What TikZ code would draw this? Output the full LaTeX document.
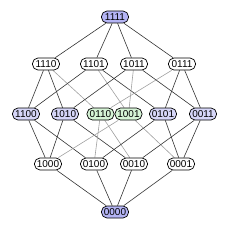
\documentclass[tikz,border=0pt]{standalone}
\usepackage{fontspec}
\setmainfont{Liberation Sans}
\usetikzlibrary{backgrounds}
\definecolor{topblue}{HTML}{B4B4F4}
\definecolor{midblue}{HTML}{D6D6F8}
\definecolor{midgreen}{HTML}{D6F4D6}
\definecolor{edgedark}{HTML}{333333}
\definecolor{edgelight}{HTML}{A0A0A0}
\tikzset{
  vtx/.style={draw=black, line width=0.7pt, fill=white, rounded corners=5.5pt,
    minimum width=27pt, minimum height=12pt, inner sep=0pt, font=\fontsize{10}{10}\selectfont},
  tb/.style={vtx, fill=topblue},
  mb/.style={vtx, fill=midblue},
  mg/.style={vtx, fill=midgreen},
  dk/.style={draw=edgedark, line width=0.6pt},
  lt/.style={draw=edgelight, line width=0.6pt},
}
\begin{document}
\begin{tikzpicture}[x=1pt,y=-1pt]
\useasboundingbox (0,0) rectangle (230,230);
\node[tb] (n1111) at (115,17) {1111};
\node[vtx] (n1110) at (46,64) {1110};
\node[vtx] (n1101) at (94,64) {1101};
\node[vtx] (n1011) at (134,64) {1011};
\node[vtx] (n0111) at (182,64) {0111};
\node[mb] (n1100) at (26,114) {1100};
\node[mb] (n1010) at (65,114) {1010};
\node[mg] (n0110) at (100.5,114) {0110};
\node[mg] (n1001) at (128.5,114) {1001};
\node[mb] (n0101) at (163,114) {0101};
\node[mb] (n0011) at (203,114) {0011};
\node[vtx] (n1000) at (48,164) {1000};
\node[vtx] (n0100) at (94,164) {0100};
\node[vtx] (n0010) at (134,164) {0010};
\node[vtx] (n0001) at (181,164) {0001};
\node[tb] (n0000) at (115,212) {0000};
\begin{pgfonlayer}{background}
\draw[dk] (n1111) -- (n1110);
\draw[dk] (n1111) -- (n1101);
\draw[dk] (n1111) -- (n1011);
\draw[dk] (n1111) -- (n0111);
\draw[dk] (n1110) -- (n1100);
\draw[dk] (n1110) -- (n1010);
\draw[lt] (n1110) -- (n0110);
\draw[dk] (n1101) -- (n1100);
\draw[lt] (n1101) -- (n1001);
\draw[dk] (n1101) -- (n0101);
\draw[dk] (n1011) -- (n1010);
\draw[lt] (n1011) -- (n1001);
\draw[dk] (n1011) -- (n0011);
\draw[lt] (n0111) -- (n0110);
\draw[dk] (n0111) -- (n0101);
\draw[dk] (n0111) -- (n0011);
\draw[dk] (n1100) -- (n1000);
\draw[dk] (n1100) -- (n0100);
\draw[dk] (n1010) -- (n1000);
\draw[dk] (n1010) -- (n0010);
\draw[lt] (n0110) -- (n0100);
\draw[lt] (n0110) -- (n0010);
\draw[lt] (n1001) -- (n1000);
\draw[lt] (n1001) -- (n0001);
\draw[dk] (n0101) -- (n0100);
\draw[dk] (n0101) -- (n0001);
\draw[dk] (n0011) -- (n0010);
\draw[dk] (n0011) -- (n0001);
\draw[dk] (n1000) -- (n0000);
\draw[dk] (n0100) -- (n0000);
\draw[dk] (n0010) -- (n0000);
\draw[dk] (n0001) -- (n0000);
\end{pgfonlayer}
\end{tikzpicture}
\end{document}
